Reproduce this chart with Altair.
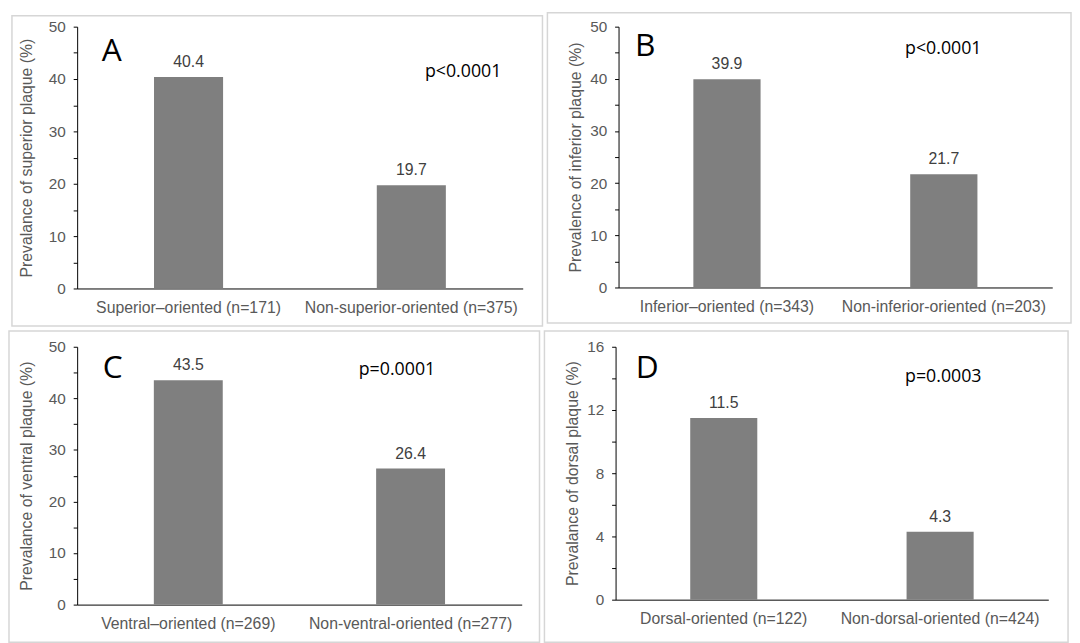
import altair as alt
import pandas as pd

FONT = "Liberation Sans"
LETTER_FONT = "Open Sans"

# Panel A
a_cats = ["Superior–oriented (n=171)", "Non-superior-oriented (n=375)"]
a_vals = [40.4, 19.7]
a_ticks = [0, 5, 10, 15, 20, 25, 30, 35, 40, 45, 50]
# Panel B
b_cats = ["Inferior–oriented (n=343)", "Non-inferior-oriented (n=203)"]
b_vals = [39.9, 21.7]
b_ticks = [0, 5, 10, 15, 20, 25, 30, 35, 40, 45, 50]
# Panel C
c_cats = ["Ventral–oriented (n=269)", "Non-ventral-oriented (n=277)"]
c_vals = [43.5, 26.4]
c_ticks = [0, 5, 10, 15, 20, 25, 30, 35, 40, 45, 50]
# Panel D
d_cats = ["Dorsal-oriented (n=122)", "Non-dorsal-oriented (n=424)"]
d_vals = [11.5, 4.3]
d_ticks = [0, 2, 4, 6, 8, 10, 12, 14, 16]


def panel(cats, vals, letter, ptext, ytitle, ymax, ticks, label_every,
          w, h, frame, letter_xy, p_xy, title_x):
    df = pd.DataFrame({"cat": cats, "val": vals})
    x = alt.X("cat:N", sort=cats,
              scale=alt.Scale(paddingInner=0, paddingOuter=0),
              axis=alt.Axis(title=None, labelAngle=0, ticks=False, tickSize=0,
                            domainColor="black", domainWidth=1,
                            labelPadding=11, labelFontSize=16,
                            labelColor="#595959", labelFont=FONT,
                            labelLimit=400))
    y = alt.Y("val:Q", scale=alt.Scale(domain=[0, ymax], nice=False, zero=True),
              axis=alt.Axis(title=ytitle, values=ticks,
                            labelExpr=f"datum.value % {label_every} == 0 ? datum.label : ''",
                            grid=False, tickSize=4, tickColor="black",
                            domainColor="black", domainWidth=1,
                            labelFontSize=15.5, labelColor="#595959",
                            labelFont=FONT, labelPadding=8,
                            titleFontSize=16, titleColor="#595959",
                            titleFont=FONT, titleFontWeight="normal",
                            titleX=title_x, titleY=h / 2, titleAngle=270,
                            titleBaseline="middle", titleAlign="center"))
    base = alt.Chart(df)
    bars = base.mark_bar(color="#7f7f7f",
                         width=alt.RelativeBandSize(0.31)).encode(x=x, y=y)
    labels = base.mark_text(baseline="alphabetic", dy=-10, fontSize=16,
                            font=FONT, color="#404040").encode(
        x=x, y=y, text=alt.Text("val:Q", format=".1f"))
    one = alt.Chart(pd.DataFrame({"k": [0]}))
    frame_rect = one.mark_rect(filled=False, stroke="#d6d6d6",
                               strokeWidth=1.5).encode(
        x=alt.value(frame[0]), x2=alt.value(frame[1]),
        y=alt.value(frame[2]), y2=alt.value(frame[3]))
    letter_t = one.mark_text(text=letter, fontSize=32, font=LETTER_FONT,
                             color="black", align="center",
                             baseline="alphabetic").encode(
        x=alt.value(letter_xy[0]), y=alt.value(letter_xy[1]))
    p_t = one.mark_text(text=ptext, fontSize=18, font=LETTER_FONT,
                        color="black", align="left",
                        baseline="middle").encode(
        x=alt.value(p_xy[0]), y=alt.value(p_xy[1]))
    return alt.layer(frame_rect, bars, labels, letter_t, p_t).properties(
        width=w, height=h)


pa = panel(a_cats, a_vals, "A", "p<0.0001", "Prevalance of superior plaque (%)",
           50, a_ticks, 10, 451, 265, (-66, 471, -11, 303), (35, 35), (352, 46), -51)
pb = panel(b_cats, b_vals, "B", "p<0.0001", "Prevalence of inferior plaque (%)",
           50, b_ticks, 10, 439, 264, (-72, 458, -14, 300), (27, 30), (290, 23), -44)
pc = panel(c_cats, c_vals, "C", "p=0.0001", "Prevalance of ventral plaque (%)",
           50, c_ticks, 10, 450, 261, (-69, 468, -16, 299), (36, 32), (285, 24), -51)
pd_ = panel(d_cats, d_vals, "D", "p=0.0003", "Prevalance of dorsal plaque (%)",
            16, d_ticks, 4, 438, 256, (-72, 458, -16, 299), (32, 32), (293, 31), -44)

top = alt.hconcat(pa, pb, spacing=3)
bottom = alt.hconcat(pc, pd_, spacing=3)
chart = alt.vconcat(top, bottom, spacing=3).properties(
    padding=0, background="white"
).configure_view(strokeWidth=0)

chart.save("out.html", embed_options={"renderer": "svg", "actions": False})
